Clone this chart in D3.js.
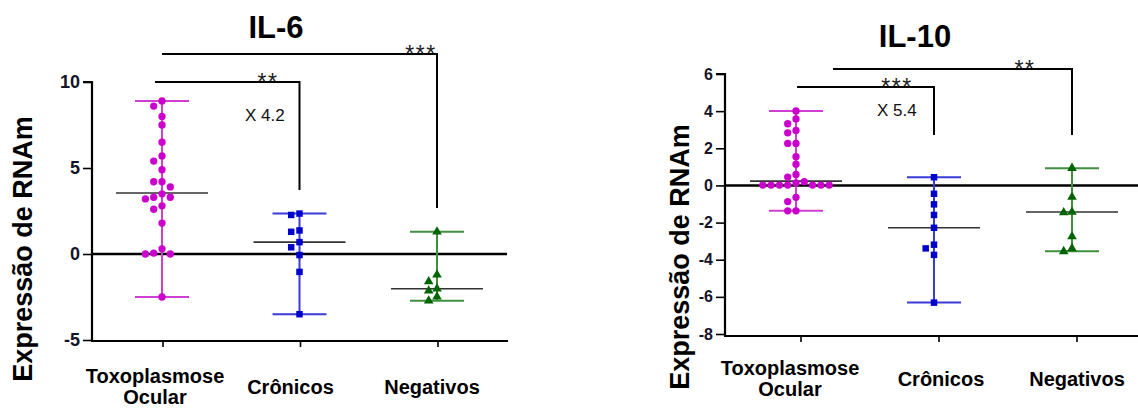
<!DOCTYPE html>
<html>
<head>
<meta charset="utf-8">
<script src="https://cdn.jsdelivr.net/npm/d3@7"></script>
<style>
  html, body { margin: 0; padding: 0; background: #fff; }
  svg { display: block; }
</style>
</head>
<body>
<svg id="chart" width="1138" height="409"></svg>
<script>
// ---------------- DATA ----------------
const categories = ["Toxoplasmose Ocular", "Crônicos", "Negativos"];

// IL-6
const il6Toxo = [8.9, 8.6, 8.0, 7.5, 6.5, 5.7, 5.4, 4.9, 4.2, 4.2, 3.9, 3.5, 3.3, 3.3, 3.2, 2.8, 2.6, 1.8, 0.3, 0.0, 0.0, 0.05, -2.5];
const il6Cron = [2.35, 2.27, 1.37, 1.29, 0.69, 0.39, -0.06, -1.04, -3.5];
const il6Neg  = [1.29, -1.21, -1.6, -2.02, -2.14, -2.49, -2.72];
const il6Median = [3.55, 0.69, -2.02];
const il6Ticks = [-5, 0, 5, 10];
const il6Fold = "X 4.2";

// IL-10
const il10Toxo = [4.01, 3.58, 3.32, 2.96, 2.83, 2.26, 2.26, 1.55, 1.14, 0.59, 0.45, 0.2, 0.14, 0.02, 0.02, 0.02, 0.02, 0.02, 0.02, 0.02, -0.64, -0.87, -1.37, -1.37];
const il10Cron = [0.44, -0.45, -1.02, -1.59, -2.28, -3.19, -3.39, -3.74, -6.31];
const il10Neg  = [0.93, -0.62, -1.43, -1.46, -2.75, -3.39, -3.55];
const il10Median = [0.23, -2.28, -1.43];
const il10Ticks = [-8, -6, -4, -2, 0, 2, 4, 6];
const il10Fold = "X 5.4";

// significance brackets: from group, to group, label
const il6Sig  = [["0", "1", "**"], ["0", "2", "***"]];
const il10Sig = [["0", "1", "***"], ["0", "2", "**"]];

// ---------------- STYLE ----------------
const dotColors  = ["#cc00cc", "#0000cc", "#006400"];
const barColors  = ["#d040d0", "#3a3ad8", "#3f8f3f"];
const shapes     = [d3.symbolCircle, d3.symbolSquare, d3.symbolTriangle];
const shapeSizes = [42, 42, 40];

const svg = d3.select("#chart");
const FONT = "'Liberation Sans', Arial, Helvetica, sans-serif";

// beeswarm offset computed from values
function swarm(values, y, spacing, diam) {
  const order = values.map((v, i) => i).sort((a, b) => values[b] - values[a]);
  const placed = [];
  const res = new Array(values.length);
  const slots = [0, -1, 1, -2, 2, -3, 3, -4, 4];
  order.forEach(i => {
    const py = y(values[i]);
    for (const s of slots) {
      const px = s * spacing;
      const ok = placed.every(p => Math.hypot(p.x - px, p.y - py) >= diam);
      if (ok) { placed.push({x: px, y: py}); res[i] = px; break; }
    }
  });
  return res;
}

function drawPanel(o) {
  const g = svg.append("g");
  const y = d3.scaleLinear().domain(o.domain).range(o.yRange);
  const x = d3.scaleLinear().domain([0, 2]).range(o.xRange);

  // title
  g.append("text").attr("x", o.titleX).attr("y", o.titleY)
    .attr("text-anchor", "middle").attr("font-family", FONT)
    .attr("font-weight", "bold").attr("font-size", 31).attr("fill", "#000")
    .text(o.title);

  // y axis
  const yAxis = d3.axisLeft(y).tickValues(o.ticks).tickSize(9).tickPadding(3).tickFormat(d => String(d));
  const ya = g.append("g").attr("transform", `translate(${o.axisX},0)`).call(yAxis);
  ya.select(".domain").attr("stroke", "#000").attr("stroke-width", 2.2)
    .attr("d", `M-9,${y(o.domain[1])}H0V${o.bottomY}`);
  ya.selectAll(".tick line").attr("stroke", "#000").attr("stroke-width", 1.6);
  ya.selectAll(".tick text").attr("font-family", FONT).attr("font-weight", "bold")
    .attr("font-size", o.tickFont).attr("fill", "#141428");

  // bottom axis
  g.append("line").attr("x1", o.axisX - 1).attr("x2", o.axisEnd)
    .attr("y1", o.bottomY).attr("y2", o.bottomY).attr("stroke", "#000").attr("stroke-width", 2.2);
  categories.forEach((c, i) => {
    const tx = x(i) + o.tickShift;
    g.append("line").attr("x1", tx).attr("x2", tx).attr("y1", o.bottomY).attr("y2", o.bottomY + 6)
      .attr("stroke", "#000").attr("stroke-width", 1.6);
  });

  // zero line
  g.append("line").attr("x1", o.axisX).attr("x2", o.zeroEnd)
    .attr("y1", y(0)).attr("y2", y(0)).attr("stroke", "#000").attr("stroke-width", 2.6);
  categories.forEach((c, i) => {
    g.append("line").attr("x1", x(i)).attr("x2", x(i)).attr("y1", y(0)).attr("y2", y(0) + 6)
      .attr("stroke", "#000").attr("stroke-width", 1.6);
  });

  // category labels
  categories.forEach((c, i) => {
    const lx = x(i) + o.labelShift[i];
    const words = c.split(" ");
    const t = g.append("text").attr("text-anchor", "middle").attr("font-family", FONT)
      .attr("font-weight", "bold").attr("font-size", 20).attr("fill", "#000");
    if (words.length > 1) {
      t.append("tspan").attr("x", lx).attr("y", o.labelY1).text(words[0]);
      t.append("tspan").attr("x", lx).attr("y", o.labelY1 + 21).text(words.slice(1).join(" "));
    } else {
      t.attr("x", lx).attr("y", o.labelY2).text(c);
    }
  });

  // y title
  g.append("text").attr("transform", `translate(${o.yTitleX},${o.yTitleY}) rotate(-90)`)
    .attr("text-anchor", "middle").attr("font-family", FONT).attr("font-weight", "bold")
    .attr("font-size", 27).attr("fill", "#000").text("Expressão de RNAm");

  // groups
  o.groups.forEach((vals, i) => {
    const cx = x(i);
    const [mn, mx] = d3.extent(vals);
    g.append("line").attr("x1", cx).attr("x2", cx).attr("y1", y(mx)).attr("y2", y(mn))
      .attr("stroke", barColors[i]).attr("stroke-width", 2);
    [mn, mx].forEach(v => {
      g.append("line").attr("x1", cx - 27).attr("x2", cx + 27).attr("y1", y(v)).attr("y2", y(v))
        .attr("stroke", barColors[i]).attr("stroke-width", 2);
    });
    g.append("line").attr("x1", cx - 46).attr("x2", cx + 46)
      .attr("y1", y(o.medians[i])).attr("y2", y(o.medians[i]))
      .attr("stroke", "#333").attr("stroke-width", 1.6);
    const offs = swarm(vals, y, 8.3, 7.6);
    g.selectAll(null).data(vals).enter().append("path")
      .attr("d", d3.symbol().type(shapes[i]).size(shapeSizes[i]))
      .attr("transform", (d, k) => `translate(${cx + offs[k]},${y(d)})`)
      .attr("fill", dotColors[i]);
  });

  // significance brackets
  o.sig.forEach((s, k) => {
    const b = o.brackets[k];
    const x2 = x(+s[1]);
    g.append("path").attr("d", `M${x(+s[0]) + b.dx0},${b.y}H${x2}V${b.y2}`)
      .attr("fill", "none").attr("stroke", "#000").attr("stroke-width", 2);
    g.append("text").attr("x", b.sx).attr("y", b.y + 8).attr("text-anchor", "middle")
      .attr("font-family", FONT).attr("font-size", 23).attr("letter-spacing", 1.5)
      .attr("fill", "#222").text(s[2]);
  });

  // fold change
  g.append("text").attr("x", o.foldX).attr("y", o.foldY).attr("font-family", FONT)
    .attr("font-size", 17).attr("fill", "#111").text(o.fold);
}

drawPanel({
  title: "IL-6", titleX: 276, titleY: 38,
  domain: [-5, 10], yRange: [340, 82], ticks: il6Ticks, tickFont: 18,
  xRange: [162, 437], axisX: 92, axisEnd: 508, zeroEnd: 507, bottomY: 341, tickShift: 1,
  labelShift: [-7, -9, -5], labelY1: 383, labelY2: 394,
  yTitleX: 32, yTitleY: 249,
  groups: [il6Toxo, il6Cron, il6Neg], medians: il6Median,
  sig: il6Sig,
  brackets: [{dx0: -7, y: 82, y2: 190, sx: 268}, {dx0: 0, y: 54, y2: 208, sx: 421}],
  fold: il6Fold, foldX: 245, foldY: 121
});

drawPanel({
  title: "IL-10", titleX: 915, titleY: 47,
  domain: [-8, 6], yRange: [334, 74], ticks: il10Ticks, tickFont: 16,
  xRange: [796, 1072], axisX: 725, axisEnd: 1138, zeroEnd: 1138, bottomY: 336, tickShift: 5,
  labelShift: [-6, 7, 5], labelY1: 375, labelY2: 386,
  yTitleX: 689, yTitleY: 257,
  groups: [il10Toxo, il10Cron, il10Neg], medians: il10Median,
  sig: il10Sig,
  brackets: [{dx0: 1, y: 87, y2: 135, sx: 897}, {dx0: 37, y: 69, y2: 135, sx: 1025}],
  fold: il10Fold, foldX: 877, foldY: 116
});
</script>
</body>
</html>
